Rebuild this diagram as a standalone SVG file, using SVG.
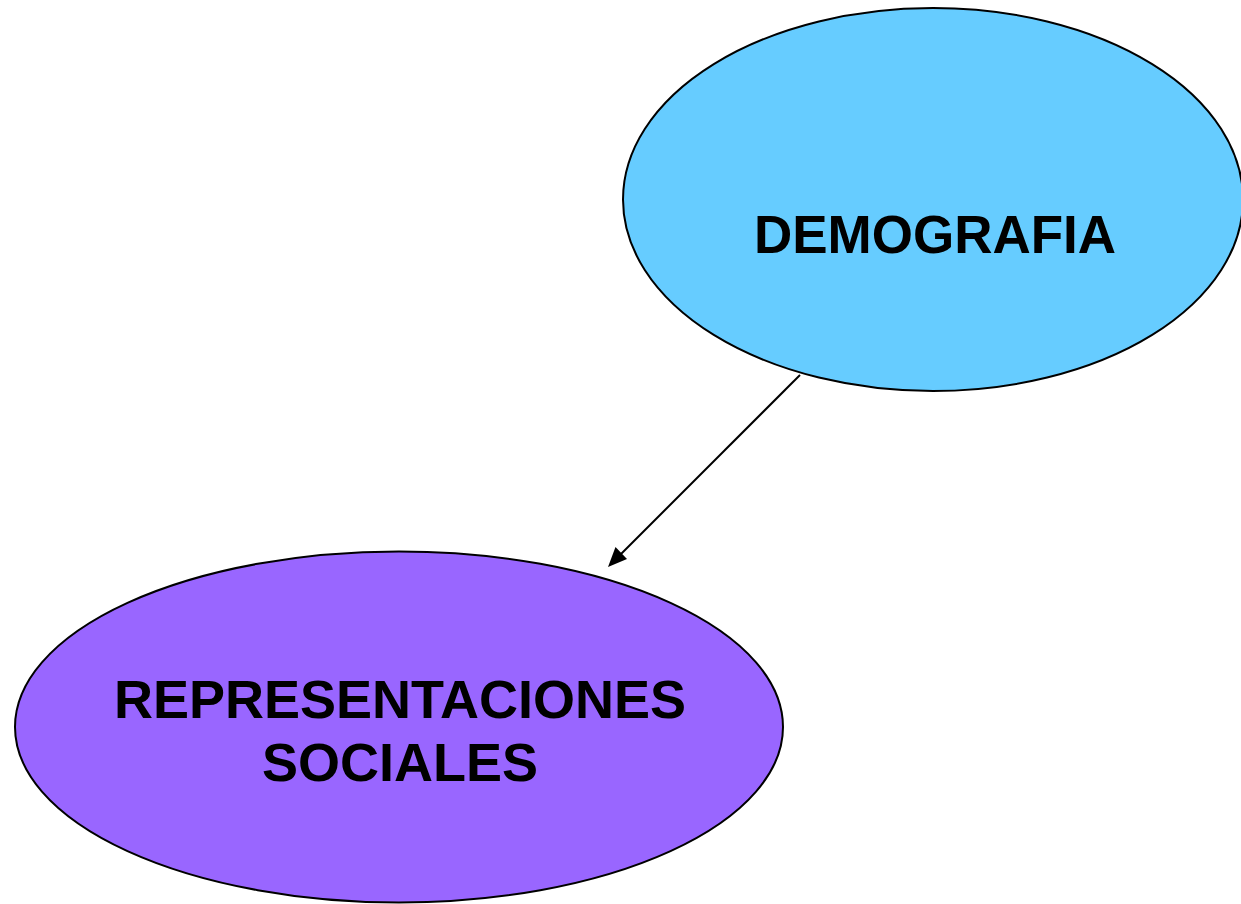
<svg xmlns="http://www.w3.org/2000/svg" width="1241" height="904" viewBox="0 0 1241 904">
<style>
.node{stroke:#000;stroke-width:2}
.lbl{font-family:"Liberation Sans",Arial,sans-serif;font-weight:bold;font-size:53px;fill:#000;text-anchor:middle}
.big{font-size:54px}
.conn{stroke:#000;stroke-width:2;fill:none}
</style>
<rect width="1241" height="904" fill="#fff"/>
<g id="demografia">
<ellipse class="node" cx="933" cy="199.5" rx="310" ry="191.5" fill="#66CCFF"/>
<text class="lbl" x="935" y="253">DEMOGRAFIA</text>
</g>
<g id="representaciones">
<ellipse class="node" cx="399" cy="727" rx="384" ry="175.5" fill="#9966FF"/>
<text class="lbl big" x="400" y="718">REPRESENTACIONES</text>
<text class="lbl big" x="400" y="781">SOCIALES</text>
</g>
<g id="connectors">
<line class="conn" x1="800" y1="375" x2="617" y2="558"/>
<path d="M608,567 L615.5,547 L627,559 z" fill="#000"/>
</g>
</svg>
